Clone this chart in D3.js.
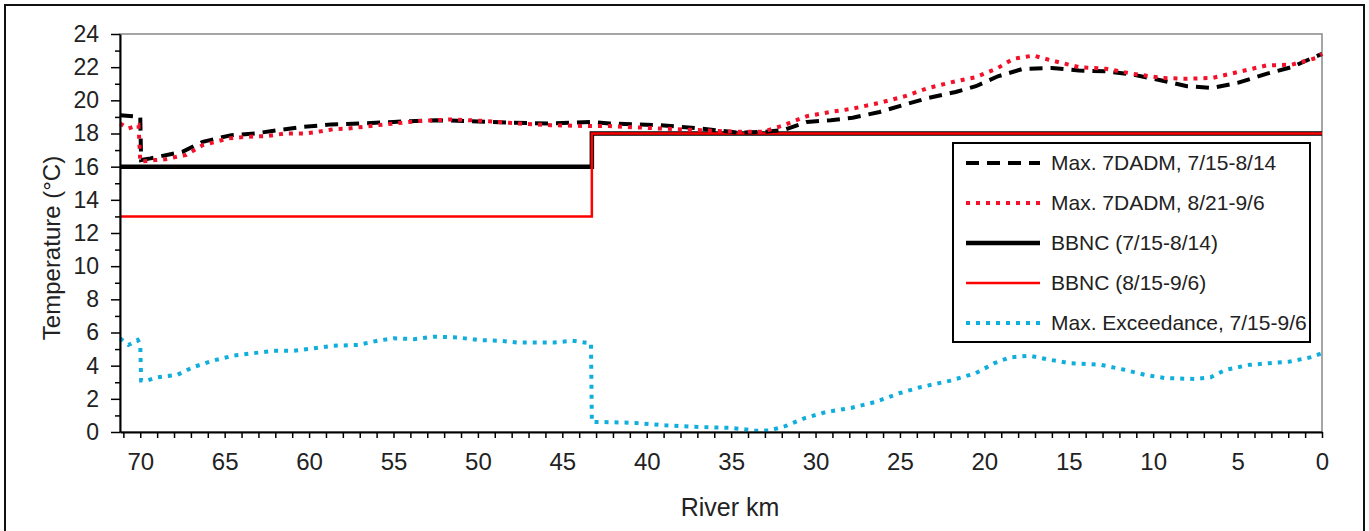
<!DOCTYPE html>
<html>
<head>
<meta charset="utf-8">
<script src="https://cdn.jsdelivr.net/npm/d3@7"></script>
<style>
  body { margin: 0; background: #fff; }
  text { font-family: "Liberation Sans", Arial, sans-serif; fill: #222; }
</style>
</head>
<body>
<div class="chart"></div>
<script>
// series: [river km, °C]
var dadmJul = [[71.2,19.1],[70.0,19.0],[69.95,16.4],[69.4,16.5],[67.5,16.9],[66.3,17.5],[64.6,17.9],[63.2,18.0],[61.9,18.2],[60.3,18.4],[58.7,18.55],[57.0,18.6],[55.0,18.7],[52.5,18.8],[50.5,18.75],[48.0,18.65],[45.7,18.6],[43.3,18.7],[42.2,18.6],[39.2,18.5],[36.8,18.3],[34.6,18.05],[33.1,18.1],[31.9,18.2],[30.5,18.7],[29.1,18.8],[27.8,18.95],[26.2,19.3],[24.7,19.75],[23.3,20.15],[21.7,20.5],[20.5,20.85],[19.2,21.45],[17.7,21.9],[16.0,21.95],[14.4,21.8],[12.8,21.75],[11.2,21.55],[9.5,21.2],[8.0,20.85],[6.5,20.75],[5.0,21.05],[3.3,21.6],[1.8,22.0],[0.35,22.65],[0,22.8]];
var dadmAug = [[71.2,18.6],[70.7,18.3],[70.1,18.5],[70.0,16.3],[69.1,16.4],[68.5,16.45],[67.8,16.6],[67.3,16.7],[66.3,17.3],[65.9,17.4],[64.8,17.7],[63.7,17.8],[62.5,17.85],[61.4,18.0],[60.3,18.0],[59.5,18.1],[58.6,18.25],[57.7,18.3],[55.5,18.55],[53.5,18.75],[51.5,18.85],[49.5,18.75],[47.5,18.6],[45.7,18.5],[43.5,18.45],[42.2,18.45],[39.2,18.3],[36.8,18.2],[34.6,18.1],[33.1,18.1],[31.9,18.5],[30.5,19.05],[29.1,19.3],[27.8,19.5],[26.2,19.85],[24.7,20.25],[23.3,20.75],[21.7,21.15],[20.5,21.4],[19.2,21.95],[18.3,22.5],[17.1,22.7],[16.0,22.4],[14.4,22.0],[12.8,21.9],[11.2,21.6],[9.5,21.35],[8.0,21.3],[6.5,21.35],[5.0,21.7],[3.3,22.1],[1.8,22.15],[0.35,22.55],[0,22.8]];
var bbncJul = [[71.2,16],[43.25,16],[43.25,18],[0,18]];
var bbncAug = [[71.2,13],[43.25,13],[43.25,18],[0,18]];
var exceed = [[71.2,5.65],[70.7,5.25],[70.15,5.55],[70.0,5.3],[69.95,3.1],[69.6,3.1],[69.0,3.3],[67.8,3.45],[66.9,3.9],[65.7,4.3],[64.5,4.6],[63.3,4.75],[62.1,4.9],[60.9,4.9],[59.7,5.05],[58.6,5.2],[57.1,5.25],[55.95,5.5],[55.0,5.65],[53.8,5.6],[52.6,5.75],[51.2,5.7],[50.0,5.55],[48.7,5.5],[47.7,5.4],[46.7,5.4],[45.5,5.4],[44.4,5.5],[43.3,5.35],[43.25,0.6],[42.5,0.6],[40.7,0.55],[38.9,0.4],[36.8,0.3],[35.0,0.25],[33.5,0.08],[32.7,0.1],[31.8,0.35],[30.6,0.85],[29.4,1.2],[27.9,1.45],[26.5,1.8],[25.0,2.35],[23.8,2.7],[22.0,3.1],[20.5,3.55],[19.4,4.15],[18.5,4.5],[17.3,4.6],[16.1,4.35],[14.9,4.15],[13.1,4.05],[11.7,3.75],[10.5,3.45],[9.3,3.25],[7.5,3.2],[6.6,3.3],[5.7,3.75],[4.3,4.05],[3.1,4.15],[1.9,4.25],[0.7,4.5],[0,4.75]];

var legendNames = ["Max. 7DADM, 7/15-8/14", "Max. 7DADM, 8/21-9/6", "BBNC (7/15-8/14)", "BBNC (8/15-9/6)", "Max. Exceedance, 7/15-9/6"];
var xTicks = d3.range(0, 72);       // one tick per km
var yTicks = d3.range(0, 25);       // one tick per degree

var width = 1369, height = 531;
var plotL = 120, plotR = 1322, plotT = 34, plotB = 432;

var svg = d3.select(".chart").append("svg")
            .attr("width", width)
            .attr("height", height);

// outer frame
svg.append("rect")
   .attr("x", 5).attr("y", 5)
   .attr("width", 1359).attr("height", 540)
   .attr("fill", "none").attr("stroke", "#111").attr("stroke-width", 2);

var x = d3.scaleLinear().domain([71.2, 0]).range([plotL, plotR]);
var y = d3.scaleLinear().domain([0, 24]).range([plotB, plotT]);

// gray plot box (top / right)
svg.append("rect")
   .attr("x", plotL).attr("y", plotT)
   .attr("width", plotR - plotL).attr("height", plotB - plotT)
   .attr("fill", "none").attr("stroke", "#888").attr("stroke-width", 1.5);

// series
var line = d3.line().x(d => x(d[0])).y(d => y(d[1]));
var series = [
  {data: bbncJul, color: "#000", w: 4.5, dash: null},
  {data: bbncAug, color: "#f00", w: 2.5, dash: null},
  {data: dadmJul, color: "#000", w: 4, dash: "13,8"},
  {data: dadmAug, color: "#f2102a", w: 4, dash: "4,6"},
  {data: exceed, color: "#10aedc", w: 4, dash: "4,6"}
];
svg.append("g").selectAll("path")
   .data(series)
   .enter()
   .append("path")
   .attr("d", d => line(d.data))
   .attr("fill", "none")
   .attr("stroke", d => d.color)
   .attr("stroke-width", d => d.w)
   .attr("stroke-dasharray", d => d.dash);

// axes
var xAxis = d3.axisBottom(x)
              .tickValues(xTicks)
              .tickSize(6)
              .tickSizeOuter(0)
              .tickFormat(d => d % 5 === 0 ? d : "");
var gx = svg.append("g")
   .attr("transform", `translate(0, ${plotB})`)
   .call(xAxis);
gx.select(".domain").attr("stroke", "#000").attr("stroke-width", 2);
gx.selectAll(".tick line").attr("stroke", "#000").attr("stroke-width", 1.5);
gx.selectAll(".tick text")
  .attr("y", 21)
  .style("font-size", "24px")
  .style("font-family", "Liberation Sans, Arial, sans-serif")
  .attr("fill", "#222");

var yAxis = d3.axisLeft(y)
              .tickValues(yTicks)
              .tickSize(5)
              .tickSizeOuter(0)
              .tickFormat(d => d % 2 === 0 ? d : "");
var gy = svg.append("g")
   .attr("transform", `translate(${plotL}, 0)`)
   .call(yAxis);
gy.select(".domain").attr("stroke", "#000").attr("stroke-width", 2);
gy.selectAll(".tick line")
  .attr("stroke", "#000").attr("stroke-width", 1.5)
  .attr("x2", d => d % 2 === 0 ? -9 : -5);
gy.selectAll(".tick text")
  .attr("x", -21)
  .style("font-size", "23px")
  .style("font-family", "Liberation Sans, Arial, sans-serif")
  .attr("fill", "#222");

// axis titles
svg.append("text")
   .attr("x", 730)
   .attr("y", 516)
   .attr("text-anchor", "middle")
   .style("font-size", "25px")
   .text("River km");
svg.append("text")
   .attr("transform", "translate(60, 248) rotate(-90)")
   .attr("text-anchor", "middle")
   .style("font-size", "24px")
   .text("Temperature (°C)");

// legend
var legend = svg.append("g").attr("transform", "translate(953, 143)");
legend.append("rect")
      .attr("width", 357).attr("height", 199)
      .attr("fill", "#fff").attr("stroke", "#000").attr("stroke-width", 2);
var rows = legend.selectAll(".row")
      .data(series.map((s, i) => ({s: series[[2, 3, 0, 1, 4][i]], name: legendNames[i]})))
      .enter()
      .append("g")
      .attr("transform", (d, i) => `translate(0, ${20 + i * 40})`);
rows.append("line")
    .attr("x1", 13).attr("x2", 87)
    .attr("stroke", d => d.s.color)
    .attr("stroke-width", d => d.s.w)
    .attr("stroke-dasharray", d => d.s.dash);
rows.append("text")
    .attr("x", 98)
    .attr("dy", "0.35em")
    .style("font-size", "21px")
    .text(d => d.name);
</script>
</body>
</html>
